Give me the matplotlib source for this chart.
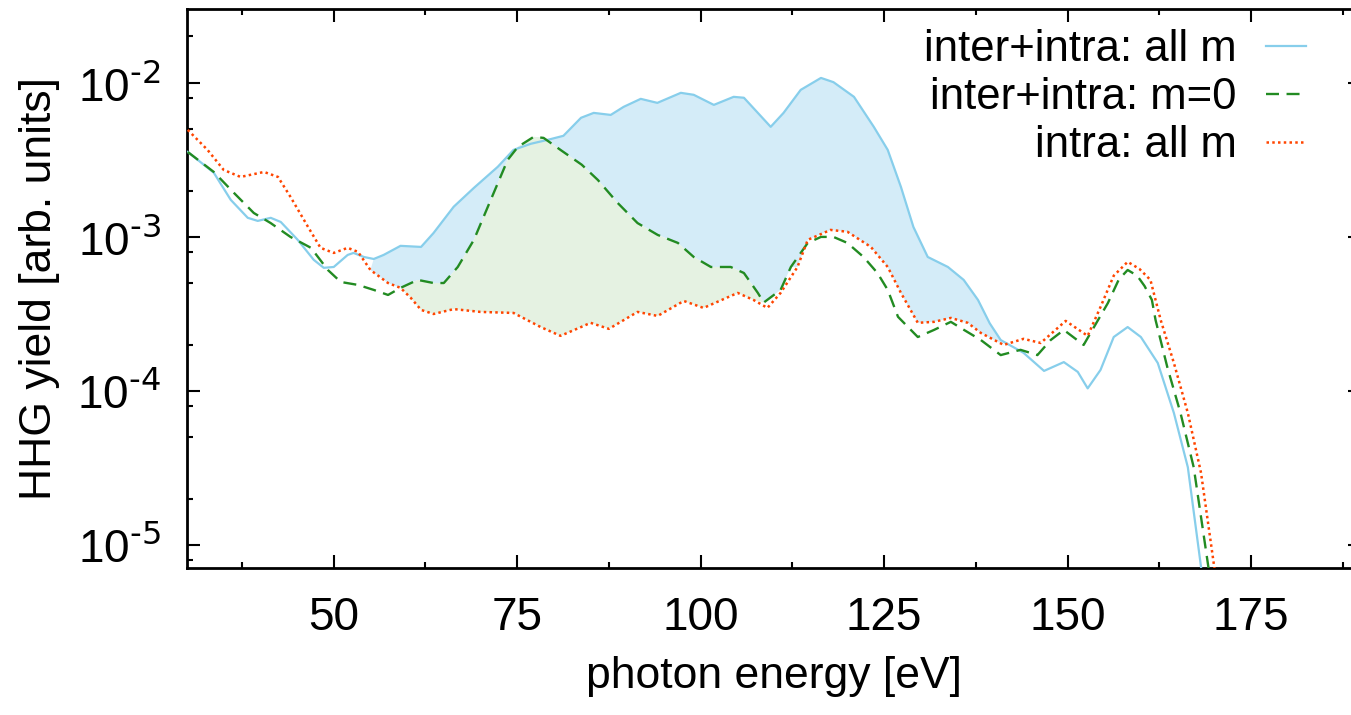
import numpy as np
import matplotlib.pyplot as plt
from matplotlib import font_manager
from matplotlib.ticker import LogLocator, MultipleLocator, NullFormatter, FuncFormatter

# values: photon energy [eV] and HHG yield [arb. units]
e_all = np.array([30.1, 33.65, 35.96, 38.28, 39.64, 41.41, 42.78, 45.09, 47.27, 48.64,
                  50.0, 51.9, 52.7, 54.1, 55.45, 56.8, 59.1, 61.9, 63.6, 66.35,
                  69.1, 72.35, 74.5, 76.85, 79.2, 81.3, 83.7, 85.43, 87.75, 89.5,
                  91.84, 94.1, 97.3, 99.06, 101.8, 104.5, 105.9, 107.8, 109.55, 111.3,
                  113.64, 116.4, 118.1, 120.9, 123.6, 125.5, 127.3, 129.0, 130.95, 133.7,
                  135.85, 137.8, 139.4, 140.9, 144.0, 146.8, 149.5, 151.4, 152.75, 154.5,
                  156.3, 158.2, 160.0, 162.3, 164.5, 166.4, 168.2, 169.0])
y_all = np.array([3.56e-3, 2.61e-3, 1.74e-3, 1.33e-3, 1.27e-3, 1.33e-3, 1.25e-3, 9.57e-4, 7.10e-4, 6.30e-4,
                  6.38e-4, 7.64e-4, 7.87e-4, 7.41e-4, 7.19e-4, 7.64e-4, 8.75e-4, 8.61e-4, 1.06e-3, 1.57e-3,
                  2.08e-3, 2.85e-3, 3.67e-3, 4.02e-3, 4.27e-3, 4.53e-3, 5.93e-3, 6.38e-3, 6.19e-3, 6.98e-3,
                  7.87e-3, 7.41e-3, 8.61e-3, 8.36e-3, 7.19e-3, 8.11e-3, 8.0e-3, 6.38e-3, 5.18e-3, 6.38e-3,
                  9.0e-3, 1.076e-2, 1.01e-2, 8.11e-3, 5.18e-3, 3.67e-3, 2.11e-3, 1.16e-3, 7.41e-4, 6.38e-4,
                  5.26e-4, 3.90e-4, 2.75e-4, 2.14e-4, 1.77e-4, 1.35e-4, 1.54e-4, 1.33e-4, 1.04e-4, 1.37e-4,
                  2.24e-4, 2.60e-4, 2.24e-4, 1.52e-4, 7.2e-5, 3.2e-5, 7.2e-6, 3.0e-6])

e_m0 = np.array([30.1, 33.65, 36.4, 39.1, 41.4, 44.1, 46.9, 49.2, 50.95, 53.3,
                 55.45, 57.4, 59.1, 61.45, 63.6, 65.0, 66.9, 69.1, 71.4, 73.7,
                 75.1, 77.25, 78.6, 80.9, 83.8, 86.0, 88.7, 91.4, 94.15, 96.9,
                 99.06, 101.4, 104.1, 105.9, 107.8, 108.6, 110.9, 112.3, 114.6, 116.4,
                 118.1, 120.0, 122.2, 124.1, 125.5, 126.9, 129.6, 131.8, 134.1, 135.9,
                 138.2, 140.9, 143.6, 145.9, 147.7, 149.5, 152.2, 155.5, 157.0, 158.2,
                 159.5, 160.5, 161.5, 162.0, 163.6, 165.4, 167.2, 169.2, 170.0])
y_m0 = np.array([3.56e-3, 2.64e-3, 1.93e-3, 1.43e-3, 1.23e-3, 1.0e-3, 8.49e-4, 6.1e-4, 5.1e-4, 4.88e-4,
                 4.53e-4, 4.2e-4, 4.67e-4, 5.26e-4, 5.02e-4, 5.02e-4, 6.38e-4, 9.57e-4, 1.74e-3, 3.16e-3,
                 3.84e-3, 4.46e-3, 4.39e-3, 3.67e-3, 2.94e-3, 2.34e-3, 1.66e-3, 1.23e-3, 1.03e-3, 9.14e-4,
                 7.41e-4, 6.38e-4, 6.38e-4, 5.83e-4, 4.33e-4, 3.75e-4, 4.53e-4, 6.38e-4, 9.14e-4, 1.0e-3,
                 1.0e-3, 9.14e-4, 7.41e-4, 5.83e-4, 4.53e-4, 3.03e-4, 2.24e-4, 2.49e-4, 2.81e-4, 2.49e-4,
                 2.14e-4, 1.71e-4, 1.85e-4, 1.71e-4, 2.14e-4, 2.49e-4, 1.99e-4, 3.72e-4, 5.3e-4, 6.1e-4,
                 5.6e-4, 4.8e-4, 3.9e-4, 2.89e-4, 1.43e-4, 7.2e-5, 3.2e-5, 7.2e-6, 3.0e-6])

e_intra = np.array([30.1, 32.8, 35.0, 37.3, 40.5, 42.4, 44.1, 46.5, 48.2, 50.0,
                    51.9, 53.3, 55.0, 57.4, 59.1, 60.5, 61.9, 63.6, 66.35, 70.0,
                    74.5, 78.2, 80.9, 83.7, 85.0, 87.5, 91.4, 94.15, 97.7, 100.4,
                    105.05, 107.2, 109.1, 110.9, 113.2, 114.6, 117.7, 120.0, 123.2, 125.5,
                    127.3, 129.6, 131.8, 134.1, 136.4, 138.2, 141.3, 144.0, 146.35, 149.75,
                    152.75, 154.5, 156.3, 158.2, 159.8, 161.3, 162.7, 164.5, 166.4, 168.2,
                    170.0, 171.0])
y_intra = np.array([4.95e-3, 3.67e-3, 2.72e-3, 2.45e-3, 2.64e-3, 2.45e-3, 1.82e-3, 1.16e-3, 8.49e-4, 7.87e-4,
                    8.49e-4, 8.0e-4, 6.1e-4, 5.02e-4, 4.67e-4, 4.02e-4, 3.36e-4, 3.16e-4, 3.4e-4, 3.26e-4,
                    3.21e-4, 2.6e-4, 2.28e-4, 2.6e-4, 2.77e-4, 2.53e-4, 3.26e-4, 3.07e-4, 3.84e-4, 3.46e-4,
                    4.33e-4, 3.9e-4, 3.46e-4, 4.33e-4, 6.38e-4, 9.57e-4, 1.11e-3, 1.08e-3, 8.61e-4, 6.38e-4,
                    4.33e-4, 2.77e-4, 2.81e-4, 2.98e-4, 2.77e-4, 2.38e-4, 1.99e-4, 2.18e-4, 2.05e-4, 2.85e-4,
                    2.28e-4, 3.51e-4, 5.6e-4, 6.89e-4, 6.2e-4, 5.26e-4, 2.89e-4, 1.52e-4, 7.2e-5, 2.94e-5,
                    7.2e-6, 3.0e-6])

labels = ['inter+intra: all m', 'inter+intra: m=0', 'intra: all m']

names = {f.name for f in font_manager.fontManager.ttflist}
narrow = 'Liberation Sans Narrow' if 'Liberation Sans Narrow' in names else 'Liberation Sans'
plt.rcParams['font.family'] = ['Liberation Sans', 'DejaVu Sans']
plt.rcParams['mathtext.default'] = 'regular'
plt.rcParams['axes.unicode_minus'] = False


def pow10(v, pos):
    # gnuplot-style 10^-n with a plain hyphen
    k = int(round(np.log10(v)))
    return r'$\mathdefault{10^{\text{-%d}}}$' % (-k)


W, H = 1351, 715
fig = plt.figure(figsize=(W / 100, H / 100), dpi=100)
# the original is cropped on the right, so the axes run a little past the figure edge
ax = fig.add_axes([187 / W, 1 - 568 / H, (1361 - 187) / W, (568 - 9.3) / H])

# shaded areas between the curves
m = (e_all >= 54.6) & (e_all <= 141.3)
lo_r1 = (e_intra > 112.5) & (e_intra <= 141.3)
lo_g = (e_m0 > 59.1) & (e_m0 <= 112.5)
lo_r2 = (e_intra >= 54.6) & (e_intra <= 59.1)
bx = np.concatenate([e_all[m], e_intra[lo_r1][::-1], e_m0[lo_g][::-1], e_intra[lo_r2][::-1]])
by = np.concatenate([y_all[m], y_intra[lo_r1][::-1], y_m0[lo_g][::-1], y_intra[lo_r2][::-1]])
ax.fill(bx, by, color='#d4ecf8', lw=0, zorder=1)

g = (e_m0 >= 59.1) & (e_m0 <= 108.6)
r = (e_intra >= 59.1) & (e_intra <= 108.6)
gx = np.concatenate([e_m0[g], e_intra[r][::-1]])
gy = np.concatenate([y_m0[g], y_intra[r][::-1]])
ax.fill(gx, gy, color='#e5f2e2', lw=0, zorder=2)

ax.plot(e_all, y_all, color='#87ceeb', lw=1.6, label=labels[0], zorder=3)
ax.plot(e_m0, y_m0, color='#228b22', lw=1.7, dashes=(5.5, 3.2), label=labels[1], zorder=4)
ax.plot(e_intra, y_intra, color='#ff4500', lw=1.8, dashes=(1, 1.3), label=labels[2], zorder=5)

ax.set_yscale('log')
ax.set_xlim(30, 190)
ax.set_ylim(7.1e-6, 3.0e-2)
ax.xaxis.set_major_locator(MultipleLocator(25))
ax.xaxis.set_minor_locator(MultipleLocator(12.5))
ax.yaxis.set_major_locator(LogLocator(base=10, numticks=20))
ax.yaxis.set_major_formatter(FuncFormatter(pow10))
ax.yaxis.set_minor_locator(LogLocator(base=10, subs=[2, 5, 8], numticks=20))
ax.yaxis.set_minor_formatter(NullFormatter())

ax.tick_params(which='both', direction='in', top=True, right=True, width=1.5,
               labelsize=33, labelfontfamily=narrow)
ax.tick_params(which='major', length=9.5)
ax.tick_params(which='minor', length=4.5)
ax.tick_params(axis='x', pad=20)
ax.tick_params(axis='y', pad=19)
for s in ax.spines.values():
    s.set_linewidth(2)

ax.set_xlabel('photon energy [eV]', fontsize=32, labelpad=12)
ax.set_ylabel('HHG yield [arb. units]', fontsize=32, labelpad=12)

leg = ax.legend(loc='upper right', bbox_to_anchor=(0.953, 0.965), frameon=False,
                fontsize=31.5, markerfirst=False, handlelength=0.92, handletextpad=0.66,
                labelspacing=0.16, borderpad=0, borderaxespad=0)

fig.savefig('out.png', dpi=100)
